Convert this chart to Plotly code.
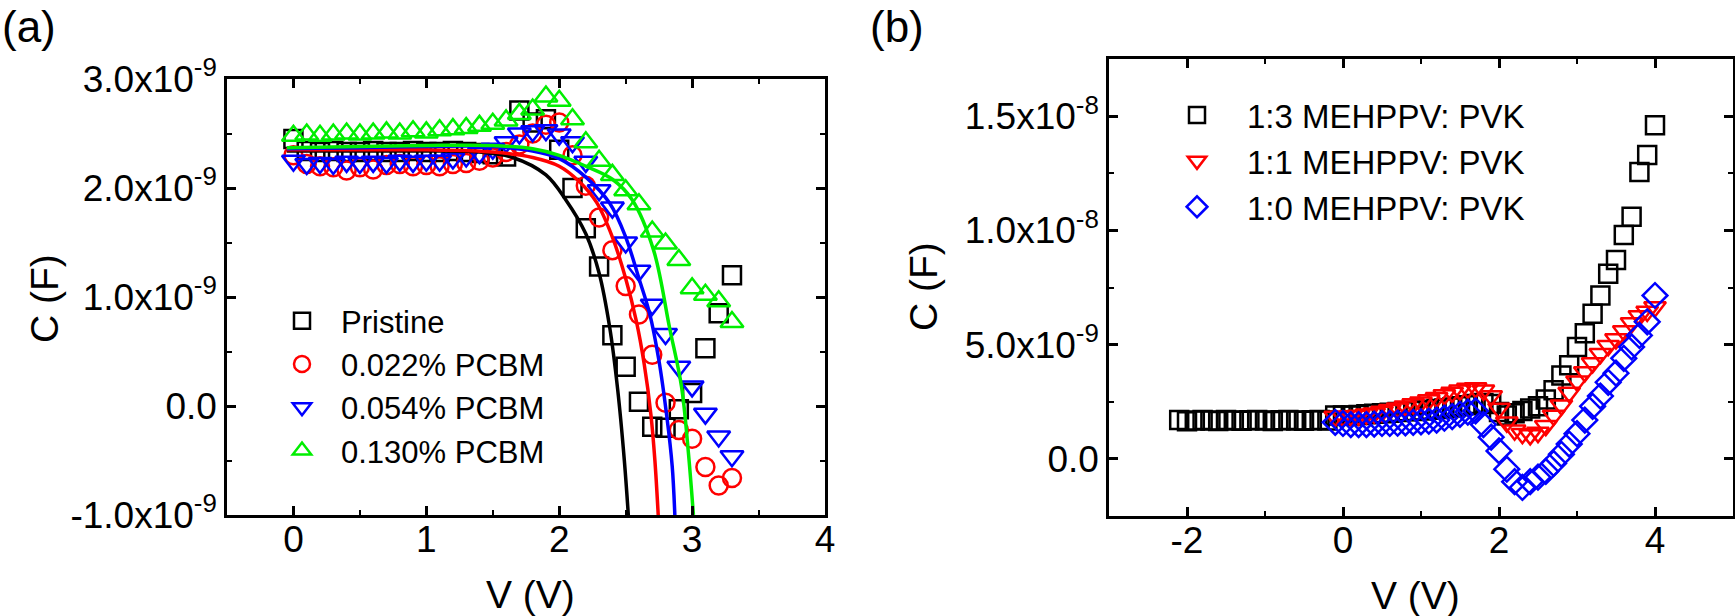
import plotly.graph_objects as go

W, H = 1735, 616

# ---------------- Panel (a) data (C in units of 1e-9 F) ----------------
v_a = [0.0, 0.1, 0.2, 0.3, 0.4, 0.5, 0.6, 0.7, 0.8, 0.9, 1.0, 1.1, 1.2, 1.3, 1.4, 1.5, 1.6,
       1.7, 1.8, 1.9, 2.0, 2.1, 2.2, 2.3, 2.4, 2.5, 2.6, 2.7, 2.8, 2.9, 3.0, 3.1, 3.2, 3.3]
c_pristine = [2.45, 2.34, 2.33, 2.34, 2.33, 2.33, 2.34, 2.33, 2.33, 2.34, 2.33, 2.33, 2.34, 2.33,
              2.32, 2.31, 2.29, 2.71, 2.60, 2.63, 2.35, 2.00, 1.63, 1.28, 0.65, 0.36, 0.04, -0.19,
              -0.20, -0.03, 0.12, 0.53, 0.85, 1.20]
c_022 = [2.30, 2.22, 2.20, 2.19, 2.16, 2.19, 2.17, 2.21, 2.22, 2.20, 2.21, 2.20, 2.22, 2.23,
         2.25, 2.28, 2.33, 2.40, 2.50, 2.58, 2.60, 2.30, 2.02, 1.73, 1.43, 1.10, 0.84, 0.47,
         0.03, -0.22, -0.30, -0.56, -0.73, -0.66]
c_054 = [2.25, 2.22, 2.23, 2.22, 2.24, 2.23, 2.24, 2.23, 2.25, 2.24, 2.25, 2.25, 2.27, 2.29,
         2.32, 2.36, 2.42, 2.50, 2.52, 2.53, 2.49, 2.42, 2.24, 1.98, 1.82, 1.50, 1.24, 0.93,
         0.66, 0.36, 0.18, -0.07, -0.28, -0.46]
c_130 = [2.48, 2.49, 2.48, 2.49, 2.50, 2.49, 2.50, 2.51, 2.50, 2.52, 2.51, 2.53, 2.54, 2.55,
         2.57, 2.59, 2.62, 2.68, 2.72, 2.84, 2.80, 2.63, 2.42, 2.25, 2.12, 1.98, 1.85, 1.60,
         1.49, 1.34, 1.08, 1.02, 0.96, 0.77]

# fitted curves
fit_v_pristine = [-0.05, 0.5, 1.0, 1.4, 1.65, 1.9, 2.05, 2.2, 2.3, 2.38, 2.44, 2.49, 2.52]
fit_c_pristine = [2.34, 2.34, 2.34, 2.33, 2.28, 2.12, 1.89, 1.58, 1.22, 0.72, 0.15, -0.5, -1.0]
fit_v_022 = [-0.05, 0.5, 1.0, 1.5, 1.8, 2.0, 2.15, 2.28, 2.4, 2.5, 2.58, 2.64, 2.69, 2.72, 2.745]
fit_c_022 = [2.35, 2.35, 2.35, 2.33, 2.28, 2.2, 2.06, 1.87, 1.55, 1.17, 0.78, 0.38, -0.08, -0.5, -1.0]
fit_v_054 = [-0.05, 0.5, 1.0, 1.5, 1.8, 2.0, 2.2, 2.38, 2.5, 2.6, 2.68, 2.75, 2.81, 2.85, 2.87]
fit_c_054 = [2.36, 2.37, 2.38, 2.38, 2.34, 2.27, 2.1, 1.86, 1.55, 1.17, 0.85, 0.42, -0.1, -0.55, -1.0]
fit_v_130 = [-0.05, 0.5, 1.0, 1.5, 1.8, 2.0, 2.2, 2.4, 2.55, 2.71, 2.83, 2.92, 2.97, 3.01]
fit_c_130 = [2.37, 2.38, 2.39, 2.39, 2.36, 2.3, 2.2, 2.08, 1.89, 1.43, 0.72, 0.18, -0.4, -1.0]

ytick_a_vals = [-1e-9, 0, 1e-9, 2e-9, 3e-9]
ytick_a_text = ["-1.0x10<sup>-9</sup>", "0.0", "1.0x10<sup>-9</sup>",
                "2.0x10<sup>-9</sup>", "3.0x10<sup>-9</sup>"]

# ---------------- Panel (b) data (C in units of 1e-9 F) ----------------
v_b13 = [-2.1, -2.0, -1.9, -1.8, -1.7, -1.6, -1.5, -1.4, -1.3, -1.2, -1.1, -1.0, -0.9, -0.8,
         -0.7, -0.6, -0.5, -0.4, -0.3, -0.2, -0.1, 0.0, 0.1, 0.2, 0.3, 0.4, 0.5, 0.6, 0.7, 0.8,
         0.9, 1.0, 1.1, 1.2, 1.3, 1.4, 1.5, 1.6, 1.7, 1.8, 1.9, 2.0, 2.1, 2.2, 2.3, 2.4, 2.5,
         2.6, 2.7, 2.8, 2.9, 3.0, 3.1, 3.2, 3.3, 3.4, 3.5, 3.6, 3.7, 3.8, 3.9, 4.0]
c_b13 = [1.70, 1.65, 1.68, 1.70, 1.68, 1.66, 1.70, 1.68, 1.67, 1.69, 1.70, 1.68, 1.66, 1.69,
         1.70, 1.68, 1.67, 1.69, 1.70, 1.68, 1.90, 1.90, 1.90, 1.92, 1.95, 1.97, 2.00, 2.02,
         2.05, 2.08, 2.10, 2.12, 2.15, 2.18, 2.20, 2.25, 2.30, 2.35, 2.40, 2.45, 2.40, 2.05,
         1.90, 2.00, 2.10, 2.20, 2.30, 2.60, 3.00, 3.65, 4.10, 4.90, 5.50, 6.35, 7.15, 8.10,
         8.70, 9.80, 10.60, 12.55, 13.30, 14.60]
v_b = [-0.1, 0.0, 0.1, 0.2, 0.3, 0.4, 0.5, 0.6, 0.7, 0.8, 0.9, 1.0, 1.1, 1.2, 1.3, 1.4, 1.5,
       1.6, 1.7, 1.8, 1.9, 2.0, 2.1, 2.2, 2.3, 2.4, 2.5, 2.6, 2.7, 2.8, 2.9, 3.0, 3.1, 3.2,
       3.3, 3.4, 3.5, 3.6, 3.7, 3.8, 3.9, 4.0]
c_b11 = [1.85, 1.85, 1.88, 1.90, 1.95, 2.00, 2.07, 2.15, 2.22, 2.30, 2.40, 2.48, 2.58, 2.68,
         2.80, 2.90, 3.00, 3.08, 3.10, 3.00, 2.75, 2.20, 1.60, 1.25, 1.10, 1.05, 1.15, 1.45,
         1.90, 2.35, 2.90, 3.40, 3.80, 4.20, 4.60, 4.95, 5.25, 5.60, 5.95, 6.25, 6.45, 6.65]
c_b10 = [1.60, 1.55, 1.50, 1.50, 1.50, 1.52, 1.55, 1.55, 1.56, 1.58, 1.60, 1.62, 1.65, 1.70,
         1.78, 1.85, 1.95, 2.05, 2.10, 1.50, 0.95, 0.35, -0.45, -1.00, -1.25, -1.00, -0.80,
         -0.55, -0.20, 0.20, 0.65, 1.10, 1.70, 2.30, 2.75, 3.35, 3.75, 4.40, 4.90, 5.40, 6.00,
         7.15]

ytick_b_vals = [0, 5e-9, 1e-8, 1.5e-8]
ytick_b_text = ["0.0", "5.0x10<sup>-9</sup>", "1.0x10<sup>-8</sup>", "1.5x10<sup>-8</sup>"]

BLACK, RED, BLUE, GREEN = "#000000", "#ff0000", "#0000ff", "#00ee00"
FONT = "Liberation Sans, Arial, Helvetica, sans-serif"


def nf(vals):
    return [v * 1e-9 for v in vals]


fig = go.Figure()

# panel (a) markers
for name, ys, col, sym, sz in [
    ("Pristine", c_pristine, BLACK, "square-open", 18),
    ("0.022% PCBM", c_022, RED, "circle-open", 18),
    ("0.054% PCBM", c_054, BLUE, "triangle-down-open", 20),
    ("0.130% PCBM", c_130, GREEN, "triangle-up-open", 20),
]:
    fig.add_trace(go.Scatter(
        x=v_a, y=nf(ys), mode="markers", name=name, legend="legend",
        marker=dict(symbol=sym, size=sz, color=col, line=dict(width=2.5, color=col)),
        xaxis="x", yaxis="y"))

# panel (a) fit lines
for xs, ys, col in [
    (fit_v_pristine, fit_c_pristine, BLACK),
    (fit_v_022, fit_c_022, RED),
    (fit_v_054, fit_c_054, BLUE),
    (fit_v_130, fit_c_130, GREEN),
]:
    fig.add_trace(go.Scatter(
        x=xs, y=nf(ys), mode="lines", showlegend=False,
        line=dict(color=col, width=3.5, shape="spline"),
        xaxis="x", yaxis="y"))

# panel (b)
for name, xs, ys, col, sym, sz in [
    ("1:3 MEHPPV: PVK", v_b13, c_b13, BLACK, "square-open", 18),
    ("1:1 MEHPPV: PVK", v_b, c_b11, RED, "triangle-down-open", 19),
    ("1:0 MEHPPV: PVK", v_b, c_b10, BLUE, "diamond-open", 19),
]:
    fig.add_trace(go.Scatter(
        x=xs, y=nf(ys), mode="markers", name=name, legend="legend2",
        marker=dict(symbol=sym, size=sz, color=col, line=dict(width=2.5, color=col)),
        xaxis="x2", yaxis="y2"))

axis_common = dict(
    showline=True, linecolor="black", linewidth=2.5, mirror="allticks",
    ticks="inside", ticklen=9, tickwidth=2.5, tickcolor="black",
    showgrid=False, zeroline=False, automargin=False,
    tickfont=dict(family=FONT, size=37, color="black"),
)
minor_common = dict(ticks="inside", ticklen=5, tickwidth=2, tickcolor="black")


def title_ann(text, xpx, ypx, angle=0):
    return dict(text=text, x=xpx / W, y=1 - ypx / H, xref="paper", yref="paper",
                xanchor="center", yanchor="middle", textangle=angle, showarrow=False,
                font=dict(family=FONT, size=39, color="black"))


fig.update_layout(
    width=W, height=H, margin=dict(l=0, r=0, t=0, b=0, pad=0, autoexpand=False),
    paper_bgcolor="white", plot_bgcolor="white",
    font=dict(family=FONT, color="black"),
    xaxis=dict(domain=[227 / W, 825 / W], range=[-0.5, 4], tickmode="array",
               tickvals=[0, 1, 2, 3, 4], ticklabelstandoff=-10,
               minor=dict(tickvals=[0.5, 1.5, 2.5, 3.5], **minor_common),
               anchor="y", **axis_common),
    yaxis=dict(domain=[1 - 515 / H, 1 - 79 / H], range=[-1e-9, 3e-9], tickmode="array",
               tickvals=ytick_a_vals, ticktext=ytick_a_text, ticklabelstandoff=0,
               minor=dict(tickvals=[-0.5e-9, 0.5e-9, 1.5e-9, 2.5e-9], **minor_common),
               anchor="x", **axis_common),
    xaxis2=dict(domain=[1109 / W, 1733 / W], range=[-3, 5], tickmode="array",
                tickvals=[-2, 0, 2, 4], ticktext=["-2", "0", "2", "4"], ticklabelstandoff=-10,
                minor=dict(tickvals=[-1, 1, 3], **minor_common),
                anchor="y2", **axis_common),
    yaxis2=dict(domain=[1 - 516 / H, 1 - 59 / H], range=[-2.5e-9, 1.75e-8], tickmode="array",
                tickvals=ytick_b_vals, ticktext=ytick_b_text, ticklabelstandoff=0,
                minor=dict(tickvals=[2.5e-9, 7.5e-9, 1.25e-8], **minor_common),
                anchor="x2", **axis_common),
    legend=dict(x=263 / W, y=1 - 294 / H, xanchor="left", yanchor="top",
                bgcolor="rgba(0,0,0,0)", borderwidth=0, itemwidth=68,
                font=dict(family=FONT, size=31, color="black"), tracegroupgap=0),
    legend2=dict(x=1147 / W, y=1 - 87 / H, xanchor="left", yanchor="top",
                 bgcolor="rgba(0,0,0,0)", borderwidth=0, itemwidth=90,
                 font=dict(family=FONT, size=33, color="black"), tracegroupgap=0),
    annotations=[
        dict(text="(a)", x=0, y=1, xref="paper", yref="paper", xanchor="left", yanchor="top",
             showarrow=False, font=dict(family=FONT, size=44)),
        dict(text="(b)", x=868 / W, y=1, xref="paper", yref="paper", xanchor="left",
             yanchor="top", showarrow=False, font=dict(family=FONT, size=44)),
        title_ann("C (F)", 44, 299, -90),
        title_ann("V (V)", 530, 594),
        title_ann("C (F)", 924, 287, -90),
        title_ann("V (V)", 1415, 595),
    ],
)

fig.write_html("out.html")
